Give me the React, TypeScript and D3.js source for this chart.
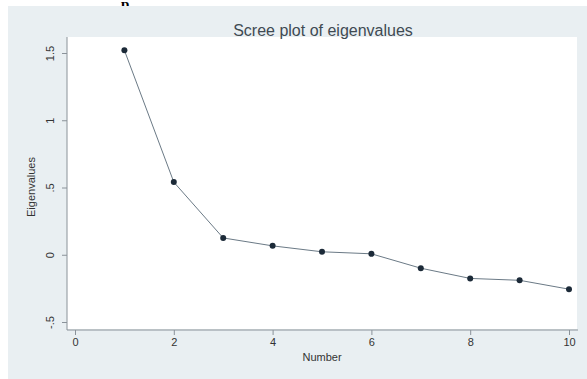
import React, { useEffect, useRef } from "react";
import * as d3 from "d3";

// eigenvalues
const components = [1, 2, 3, 4, 5, 6, 7, 8, 9, 10];
const eigenvalues = [1.52, 0.54, 0.125, 0.066, 0.022, 0.007, -0.1, -0.176, -0.19, -0.256];
const xTicks = [0, 2, 4, 6, 8, 10];
const yTicks = [-0.5, 0, 0.5, 1, 1.5];
const yTickLabels = ["-.5", "0", ".5", "1", "1.5"];

const W = 587;
const H = 379;

export default function App() {
  const svgRef = useRef<SVGSVGElement>(null);

  useEffect(() => {
    const svg = d3.select(svgRef.current);
    svg.selectAll("*").remove();

    // white page with a fragment of the caption above the graph
    svg.append("rect").attr("width", W).attr("height", H).attr("fill", "#fff");
    svg.append("text")
      .attr("x", 121).attr("y", 9)
      .style("font-family", "Liberation Serif, serif")
      .style("font-size", "15px")
      .style("font-weight", "bold")
      .text("p");

    // graph region
    svg.append("rect")
      .attr("x", 8).attr("y", 6)
      .attr("width", W - 8).attr("height", H - 6)
      .attr("fill", "#e9eff2");

    const x = d3.scaleLinear().domain([0, 10]).range([75, 569]);
    const y = d3.scaleLinear().domain([-0.5, 1.5]).range([322, 53]);

    // plot region
    svg.append("rect")
      .attr("x", 67).attr("y", 37)
      .attr("width", 577 - 67).attr("height", 329 - 37)
      .attr("fill", "#fff");

    const font = "Liberation Sans, Arial, sans-serif";

    svg.append("text")
      .attr("x", 323).attr("y", 36)
      .attr("text-anchor", "middle")
      .style("font-family", font)
      .style("font-size", "16px")
      .attr("fill", "#3f4a52")
      .text("Scree plot of eigenvalues");

    // x axis
    const xAxis = svg.append("g")
      .attr("transform", "translate(0,330)")
      .call(d3.axisBottom(x).tickValues(xTicks).tickSize(5).tickPadding(3).tickFormat(d3.format("d")));
    xAxis.select(".domain").attr("d", "M67,0H578").attr("stroke", "#8a9299");
    xAxis.selectAll(".tick line").attr("stroke", "#8a9299");
    xAxis.selectAll("text")
      .style("font-family", font)
      .style("font-size", "11px")
      .attr("fill", "#333");

    // y axis
    const yAxis = svg.append("g")
      .attr("transform", "translate(67,0)")
      .call(d3.axisLeft(y).tickValues(yTicks).tickSize(5).tickFormat((d, i) => yTickLabels[i]));
    yAxis.select(".domain").attr("d", "M0,37V330").attr("stroke", "#8a9299");
    yAxis.selectAll(".tick line").attr("stroke", "#8a9299");
    yAxis.selectAll("text")
      .attr("x", null).attr("dy", null)
      .attr("text-anchor", "middle")
      .attr("transform", "translate(-13,0) rotate(-90)")
      .style("font-family", font)
      .style("font-size", "11px")
      .attr("fill", "#333");

    svg.append("text")
      .attr("transform", "translate(35,187) rotate(-90)")
      .attr("text-anchor", "middle")
      .style("font-family", font)
      .style("font-size", "11px")
      .attr("fill", "#333")
      .text("Eigenvalues");

    svg.append("text")
      .attr("x", 322).attr("y", 361)
      .attr("text-anchor", "middle")
      .style("font-family", font)
      .style("font-size", "11px")
      .attr("fill", "#333")
      .text("Number");

    const data = components.map((c, i) => ({ c, v: eigenvalues[i] }));

    const line = d3.line<{ c: number; v: number }>()
      .x(d => x(d.c))
      .y(d => y(d.v));

    svg.append("path")
      .datum(data)
      .attr("d", line)
      .attr("fill", "none")
      .attr("stroke", "#6b7a86")
      .attr("stroke-width", 1);

    svg.selectAll(".pt")
      .data(data)
      .enter()
      .append("circle")
      .attr("class", "pt")
      .attr("cx", d => x(d.c))
      .attr("cy", d => y(d.v))
      .attr("r", 3)
      .attr("fill", "#1c2a38");
  }, []);

  return (
    <div style={{ position: "absolute", left: 0, top: 0 }}>
      <svg ref={svgRef} width={W} height={H} style={{ display: "block" }}></svg>
    </div>
  );
}
